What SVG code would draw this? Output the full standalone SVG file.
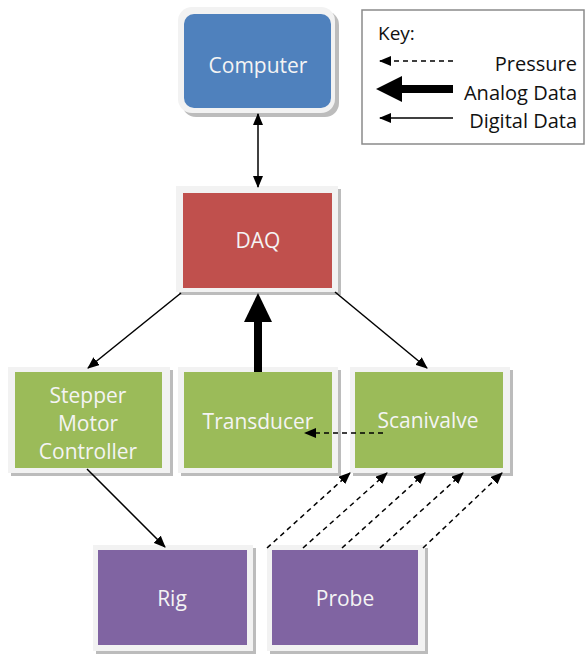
<svg xmlns="http://www.w3.org/2000/svg" width="588" height="654" viewBox="0 0 588 654">
<style>
.shadow{fill:#a0a0a0;opacity:0.7}
.frame{fill:#f2f2f2}
.lbl{font-family:"Open Sans","Liberation Sans",sans-serif;font-size:21px;fill:#f4f4f4;text-anchor:middle}
.key{font-family:"Open Sans","Liberation Sans",sans-serif;font-size:20px;fill:#111;text-anchor:end}
.thin{stroke:#000;stroke-width:1.5;fill:none}
.dash{stroke:#000;stroke-width:1.5;stroke-dasharray:5,4;fill:none}
</style>
<defs>
<marker id="ah" markerWidth="12" markerHeight="10" refX="11" refY="5" orient="auto" markerUnits="userSpaceOnUse">
<path d="M0,0 L12,5 L0,10 Z" fill="#000"/>
</marker>
<marker id="ahs" markerWidth="12" markerHeight="10" refX="1" refY="5" orient="auto" markerUnits="userSpaceOnUse">
<path d="M12,0 L0,5 L12,10 Z" fill="#000"/>
</marker>
</defs>
<rect width="588" height="654" fill="#fff"/>

<g id="computer">
<rect class="shadow" x="182" y="11" width="157" height="106" rx="14"/>
<rect class="frame" x="178" y="7" width="157" height="106" rx="14"/>
<rect x="184" y="14" width="147" height="94" rx="10" fill="#4f81bd"/>
<text class="lbl" x="258" y="73">Computer</text>
</g>

<g id="daq">
<rect class="shadow" x="179" y="189" width="162" height="106"/>
<rect class="frame" x="176" y="186" width="162" height="106"/>
<rect x="183" y="193" width="149" height="95" fill="#c0504d"/>
<text class="lbl" x="258" y="248">DAQ</text>
</g>

<g id="stepper">
<rect class="shadow" x="11" y="370" width="162" height="106"/>
<rect class="frame" x="8" y="367" width="162" height="106"/>
<rect x="15" y="372" width="147" height="96" fill="#9bbb59"/>
<text class="lbl" x="88" y="403">Stepper</text>
<text class="lbl" x="88" y="431">Motor</text>
<text class="lbl" x="88" y="459">Controller</text>
</g>

<g id="transducer">
<rect class="shadow" x="181" y="370" width="160" height="106"/>
<rect class="frame" x="178" y="367" width="160" height="106"/>
<rect x="184" y="372" width="148" height="96" fill="#9bbb59"/>
<text class="lbl" x="258" y="429">Transducer</text>
</g>

<g id="scanivalve">
<rect class="shadow" x="353" y="370" width="160" height="106"/>
<rect class="frame" x="350" y="367" width="160" height="106"/>
<rect x="355" y="372" width="148" height="96" fill="#9bbb59"/>
<text class="lbl" x="428" y="428">Scanivalve</text>
</g>

<g id="rig">
<rect class="shadow" x="96" y="548" width="160" height="106"/>
<rect class="frame" x="93" y="545" width="160" height="106"/>
<rect x="98" y="550" width="149" height="95" fill="#8064a2"/>
<text class="lbl" x="172" y="606">Rig</text>
</g>

<g id="probe">
<rect class="shadow" x="270" y="548" width="158" height="106"/>
<rect class="frame" x="267" y="545" width="158" height="106"/>
<rect x="272" y="550" width="146" height="95" fill="#8064a2"/>
<text class="lbl" x="345" y="606">Probe</text>
</g>

<g id="key">
<rect x="362" y="10" width="222" height="134" fill="#fff" stroke="#8a8a8a" stroke-width="1.5"/>
<text x="378" y="40" font-family="'Open Sans','Liberation Sans',sans-serif" font-size="19" fill="#111">Key:</text>
<line class="dash" x1="453" y1="61" x2="380" y2="61" marker-end="url(#ah)"/>
<text class="key" x="577" y="71">Pressure</text>
<line x1="453" y1="89" x2="400" y2="89" stroke="#000" stroke-width="8"/>
<path d="M376,89 L402,76 L402,102 Z" fill="#000"/>
<text class="key" x="577" y="100">Analog Data</text>
<line class="thin" x1="453" y1="118" x2="380" y2="118" marker-end="url(#ah)"/>
<text class="key" x="577" y="128">Digital Data</text>
</g>

<g id="connectors">
<line class="thin" x1="258" y1="114" x2="258" y2="187" marker-start="url(#ahs)" marker-end="url(#ah)"/>
<line class="thin" x1="181" y1="293" x2="88" y2="368" marker-end="url(#ah)"/>
<line class="thin" x1="335" y1="292" x2="427" y2="368" marker-end="url(#ah)"/>
<line x1="258" y1="372" x2="258" y2="318" stroke="#000" stroke-width="8"/>
<path d="M258,293 L244,322 L272,322 Z" fill="#000"/>
<line class="dash" x1="383" y1="433" x2="305" y2="433" marker-end="url(#ah)"/>
<line class="thin" x1="87" y1="469" x2="165" y2="547" marker-end="url(#ah)"/>
<line class="dash" x1="267" y1="548" x2="350" y2="473" marker-end="url(#ah)"/>
<line class="dash" x1="303" y1="548" x2="387" y2="473" marker-end="url(#ah)"/>
<line class="dash" x1="342" y1="548" x2="425" y2="473" marker-end="url(#ah)"/>
<line class="dash" x1="380" y1="548" x2="463" y2="473" marker-end="url(#ah)"/>
<line class="dash" x1="423" y1="548" x2="502" y2="473" marker-end="url(#ah)"/>
</g>
</svg>
